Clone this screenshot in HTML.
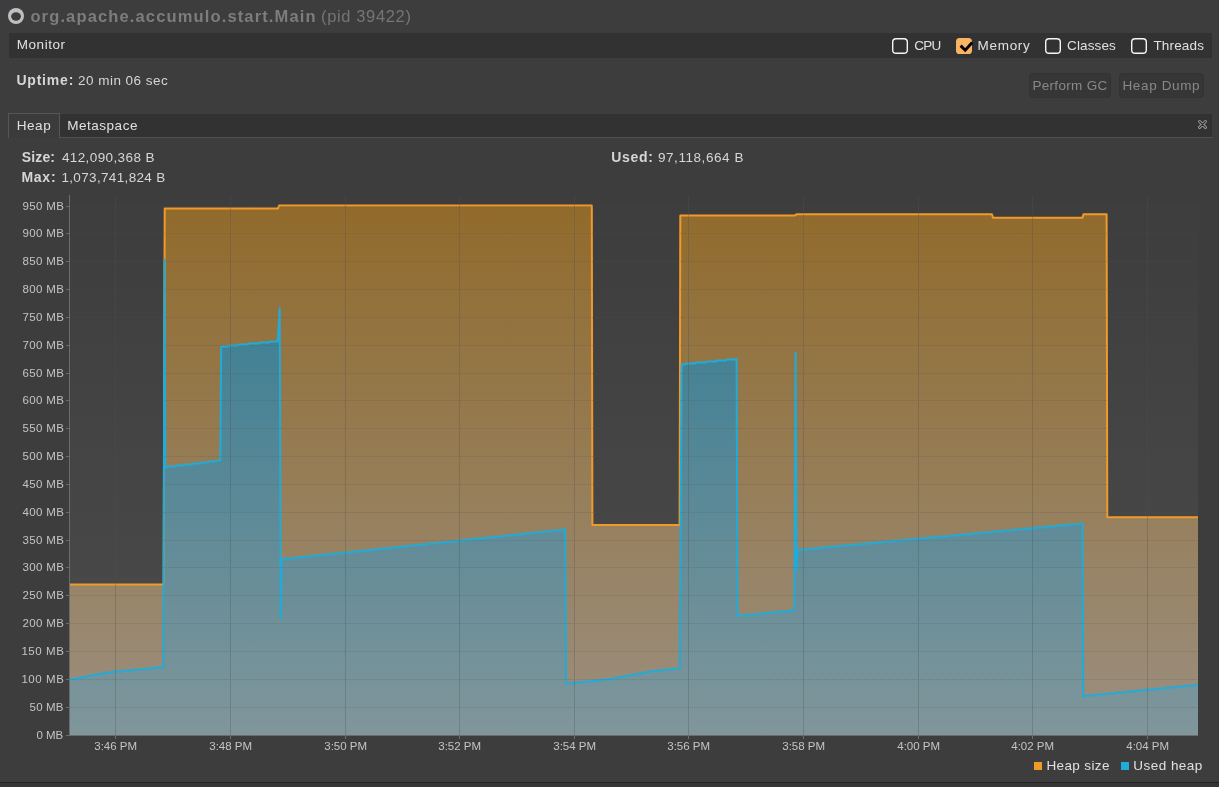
<!DOCTYPE html>
<html><head><meta charset="utf-8"><title>VisualVM - Monitor</title>
<style>
html,body{margin:0;padding:0}
body{width:1219px;height:787px;background:#3d3d3d;overflow:hidden;position:relative;font-family:"Liberation Sans",sans-serif}
.t{position:absolute;white-space:pre;font-family:"Liberation Sans",sans-serif}
.txt{position:absolute;left:0;top:0;width:1219px;height:787px;will-change:transform}
.bar{position:absolute;background:#323232}
.cb{position:absolute;width:14px;height:14px;border:1px solid #f0f0f0;border-radius:3.5px;top:38px;background:#323232}
.cb.on{background:#f9b463;border-color:#f9b463}
.cbx{position:absolute;top:38px}
.btn{position:absolute;top:73px;height:23px;border:1px solid #333;border-radius:4px;background:#363636}
.chart{position:absolute;left:0;top:0}
.sq{position:absolute;width:8px;height:8px;top:762px}
</style></head><body>
<!-- title icon -->
<svg style="position:absolute;left:8px;top:8px" width="16" height="16" viewBox="0 0 16 16"><circle cx="8" cy="8" r="8" fill="#bfbfc6"/><ellipse cx="8.05" cy="8.5" rx="4.9" ry="4.15" fill="#3b3b3b"/></svg>
<!-- monitor bar -->
<div class="bar" style="left:9px;top:33px;width:1203px;height:25px"></div>
<svg class="cbx" style="left:892px" width="16" height="16" viewBox="0 0 16 16"><rect x="0.7" y="0.7" width="14.6" height="14.6" rx="3.4" fill="#323232" stroke="#f6f6f6" stroke-width="1.4"/></svg>
<svg class="cbx" style="left:956px" width="16" height="16" viewBox="0 0 16 16"><rect x="0" y="0" width="16" height="16" rx="3.6" fill="#f9b463"/></svg>
<svg style="position:absolute;left:956px;top:38px" width="18" height="16" viewBox="0 0 18 16"><polyline points="4.6,7.6 9.2,12.2 16.2,4.6" fill="none" stroke="#000" stroke-width="3" stroke-linecap="butt" stroke-linejoin="miter"/></svg>
<svg class="cbx" style="left:1045px" width="16" height="16" viewBox="0 0 16 16"><rect x="0.7" y="0.7" width="14.6" height="14.6" rx="3.4" fill="#323232" stroke="#f6f6f6" stroke-width="1.4"/></svg>
<svg class="cbx" style="left:1131px" width="16" height="16" viewBox="0 0 16 16"><rect x="0.7" y="0.7" width="14.6" height="14.6" rx="3.4" fill="#323232" stroke="#f6f6f6" stroke-width="1.4"/></svg>
<!-- buttons -->
<div class="btn" style="left:1029px;width:80px"></div>
<div class="btn" style="left:1119px;width:83px"></div>
<!-- tab bar -->
<div class="bar" style="left:9px;top:114px;width:1203px;height:23px"></div>
<div style="position:absolute;left:9px;top:137px;width:1204px;height:1px;background:#505050"></div>
<div style="position:absolute;left:8px;top:113px;width:50px;height:24px;background:#3b3b3b;border:1px solid #565656;border-bottom:none"></div>
<svg style="position:absolute;left:1196px;top:118px" width="13" height="13" viewBox="0 0 13 13"><g fill="none" stroke-linecap="round"><path d="M3.55 3.5 L9.45 9.4 M9.45 3.5 L3.55 9.4" stroke="#9c9c9c" stroke-width="3"/><path d="M3.55 3.5 L9.45 9.4 M9.45 3.5 L3.55 9.4" stroke="#2e2e2e" stroke-width="1.1"/></g></svg>
<svg class="chart" width="1219" height="787" viewBox="0 0 1219 787">
<defs>
<linearGradient id="gbg" gradientUnits="userSpaceOnUse" x1="0" y1="195" x2="0" y2="735"><stop offset="0" stop-color="#3d3d3d"/><stop offset="1" stop-color="#4c4c4c"/></linearGradient>
<linearGradient id="gor" gradientUnits="userSpaceOnUse" x1="0" y1="195" x2="0" y2="735"><stop offset="0" stop-color="rgb(145,106,42)"/><stop offset="1" stop-color="rgb(155,143,128)"/></linearGradient>
<linearGradient id="gbl" gradientUnits="userSpaceOnUse" x1="0" y1="195" x2="0" y2="735"><stop offset="0" stop-color="rgb(43,121,146)"/><stop offset="1" stop-color="rgb(128,150,155)"/></linearGradient>
<clipPath id="cp"><rect x="70" y="195" width="1128" height="540"/></clipPath>
</defs>
<rect x="70" y="195" width="1128" height="540" fill="url(#gbg)"/>
<g clip-path="url(#cp)">
<polygon points="70.0,584.5 163.6,584.5 164.7,208.5 278.0,208.5 279.0,205.6 591.8,205.6 592.4,524.9 679.6,524.9 680.3,215.6 794.5,215.6 796.5,214.3 992.0,214.3 993.0,217.7 1082.5,217.7 1083.5,214.3 1106.6,214.3 1107.3,517.3 1198.0,517.3 1198.0,735.0 70.0,735.0" fill="url(#gor)"/>
<polygon points="70.0,679.8 71.0,679.5 74.0,679.5 75.0,678.5 79.0,678.5 80.0,677.5 84.0,677.5 85.0,676.5 89.0,676.5 90.0,675.5 94.0,675.5 95.0,674.5 99.0,674.5 100.0,673.5 104.0,673.5 105.0,672.5 105.0,672.5 107.0,672.5 108.0,672.5 112.0,672.5 113.0,671.5 122.0,671.5 123.0,670.5 133.0,670.5 134.0,669.5 144.0,669.5 145.0,668.5 154.0,668.5 155.0,667.5 162.0,667.5 163.4,667.2 164.5,259.6 165.4,467.3 167.0,467.5 167.0,467.5 168.0,466.5 175.0,466.5 176.0,465.5 183.0,465.5 184.0,464.5 192.0,464.5 193.0,463.5 200.0,463.5 201.0,462.5 208.0,462.5 209.0,461.5 216.0,461.5 217.0,460.5 219.0,460.5 220.3,460.5 221.2,346.7 223.0,346.5 228.0,346.5 229.0,345.5 238.0,345.5 239.0,344.5 248.0,344.5 249.0,343.5 259.0,343.5 260.0,342.5 269.0,342.5 270.0,341.5 276.0,341.5 277.8,341.2 279.7,308.0 280.7,618.0 281.6,559.3 283.0,559.5 284.0,559.5 285.0,558.5 294.0,558.5 295.0,557.5 303.0,557.5 304.0,556.5 313.0,556.5 314.0,555.5 322.0,555.5 323.0,554.5 332.0,554.5 333.0,553.5 341.0,553.5 342.0,552.5 351.0,552.5 352.0,551.5 360.0,551.5 361.0,550.5 370.0,550.5 371.0,549.5 379.0,549.5 380.0,548.5 389.0,548.5 390.0,547.5 399.0,547.5 400.0,546.5 408.0,546.5 409.0,545.5 418.0,545.5 419.0,544.5 427.0,544.5 428.0,543.5 437.0,543.5 438.0,542.5 446.0,542.5 447.0,541.5 456.0,541.5 457.0,540.5 465.0,540.5 466.0,539.5 475.0,539.5 476.0,538.5 484.0,538.5 485.0,537.5 494.0,537.5 495.0,536.5 504.0,536.5 505.0,535.5 513.0,535.5 514.0,534.5 523.0,534.5 524.0,533.5 532.0,533.5 533.0,532.5 542.0,532.5 543.0,531.5 551.0,531.5 552.0,530.5 561.0,530.5 562.0,529.5 564.0,529.5 565.2,529.6 566.1,683.6 568.0,683.5 572.0,683.5 573.0,682.5 582.0,682.5 583.0,681.5 592.0,681.5 593.0,680.5 602.0,680.5 603.0,679.5 608.0,679.5 610.0,679.3 611.0,679.5 611.0,679.5 612.0,678.5 616.0,678.5 617.0,677.5 621.0,677.5 622.0,676.5 626.0,676.5 627.0,675.5 632.0,675.5 633.0,674.5 637.0,674.5 638.0,673.5 642.0,673.5 643.0,672.5 647.0,672.5 648.0,671.5 648.0,671.5 650.0,671.5 651.0,671.5 654.0,671.5 655.0,670.5 663.0,670.5 664.0,669.5 673.0,669.5 674.0,668.5 678.0,668.5 679.8,668.3 681.6,364.4 683.0,364.5 685.0,364.5 686.0,363.5 695.0,363.5 696.0,362.5 706.0,362.5 707.0,361.5 716.0,361.5 717.0,360.5 726.0,360.5 727.0,359.5 735.0,359.5 736.6,359.0 737.5,616.0 739.0,615.5 747.0,615.5 748.0,614.5 757.0,614.5 758.0,613.5 767.0,613.5 768.0,612.5 778.0,612.5 779.0,611.5 788.0,611.5 789.0,610.5 793.0,610.5 794.3,610.4 795.6,352.7 796.6,570.5 797.6,550.0 799.0,549.5 808.0,549.5 809.0,548.5 819.0,548.5 820.0,547.5 829.0,547.5 830.0,546.5 840.0,546.5 841.0,545.5 851.0,545.5 852.0,544.5 862.0,544.5 863.0,543.5 873.0,543.5 874.0,542.5 883.0,542.5 884.0,541.5 894.0,541.5 895.0,540.5 905.0,540.5 906.0,539.5 916.0,539.5 917.0,538.5 927.0,538.5 928.0,537.5 937.0,537.5 938.0,536.5 948.0,536.5 949.0,535.5 959.0,535.5 960.0,534.5 970.0,534.5 971.0,533.5 980.0,533.5 981.0,532.5 991.0,532.5 992.0,531.5 1002.0,531.5 1003.0,530.5 1013.0,530.5 1014.0,529.5 1024.0,529.5 1025.0,528.5 1034.0,528.5 1035.0,527.5 1045.0,527.5 1046.0,526.5 1056.0,526.5 1057.0,525.5 1067.0,525.5 1068.0,524.5 1078.0,524.5 1079.0,523.5 1081.0,523.5 1082.4,523.6 1083.3,696.2 1085.0,696.5 1085.0,696.5 1086.0,695.5 1095.0,695.5 1096.0,694.5 1105.0,694.5 1106.0,693.5 1115.0,693.5 1116.0,692.5 1125.0,692.5 1126.0,691.5 1135.0,691.5 1136.0,690.5 1145.0,690.5 1146.0,689.5 1155.0,689.5 1156.0,688.5 1165.0,688.5 1166.0,687.5 1175.0,687.5 1176.0,686.5 1185.0,686.5 1186.0,685.5 1195.0,685.5 1196.0,684.5 1196.0,684.5 1198.0,684.8 1198.0,735.0 70.0,735.0" fill="url(#gbl)"/>
<polyline points="70.0,584.5 163.6,584.5 164.7,208.5 278.0,208.5 279.0,205.6 591.8,205.6 592.4,524.9 679.6,524.9 680.3,215.6 794.5,215.6 796.5,214.3 992.0,214.3 993.0,217.7 1082.5,217.7 1083.5,214.3 1106.6,214.3 1107.3,517.3 1198.0,517.3" fill="none" stroke="#f19a2a" stroke-width="2" stroke-linejoin="round"/>
<polyline points="70.0,679.8 71.0,679.5 74.0,679.5 75.0,678.5 79.0,678.5 80.0,677.5 84.0,677.5 85.0,676.5 89.0,676.5 90.0,675.5 94.0,675.5 95.0,674.5 99.0,674.5 100.0,673.5 104.0,673.5 105.0,672.5 105.0,672.5 107.0,672.5 108.0,672.5 112.0,672.5 113.0,671.5 122.0,671.5 123.0,670.5 133.0,670.5 134.0,669.5 144.0,669.5 145.0,668.5 154.0,668.5 155.0,667.5 162.0,667.5 163.4,667.2 164.5,259.6 165.4,467.3 167.0,467.5 167.0,467.5 168.0,466.5 175.0,466.5 176.0,465.5 183.0,465.5 184.0,464.5 192.0,464.5 193.0,463.5 200.0,463.5 201.0,462.5 208.0,462.5 209.0,461.5 216.0,461.5 217.0,460.5 219.0,460.5 220.3,460.5 221.2,346.7 223.0,346.5 228.0,346.5 229.0,345.5 238.0,345.5 239.0,344.5 248.0,344.5 249.0,343.5 259.0,343.5 260.0,342.5 269.0,342.5 270.0,341.5 276.0,341.5 277.8,341.2 279.7,308.0 280.7,618.0 281.6,559.3 283.0,559.5 284.0,559.5 285.0,558.5 294.0,558.5 295.0,557.5 303.0,557.5 304.0,556.5 313.0,556.5 314.0,555.5 322.0,555.5 323.0,554.5 332.0,554.5 333.0,553.5 341.0,553.5 342.0,552.5 351.0,552.5 352.0,551.5 360.0,551.5 361.0,550.5 370.0,550.5 371.0,549.5 379.0,549.5 380.0,548.5 389.0,548.5 390.0,547.5 399.0,547.5 400.0,546.5 408.0,546.5 409.0,545.5 418.0,545.5 419.0,544.5 427.0,544.5 428.0,543.5 437.0,543.5 438.0,542.5 446.0,542.5 447.0,541.5 456.0,541.5 457.0,540.5 465.0,540.5 466.0,539.5 475.0,539.5 476.0,538.5 484.0,538.5 485.0,537.5 494.0,537.5 495.0,536.5 504.0,536.5 505.0,535.5 513.0,535.5 514.0,534.5 523.0,534.5 524.0,533.5 532.0,533.5 533.0,532.5 542.0,532.5 543.0,531.5 551.0,531.5 552.0,530.5 561.0,530.5 562.0,529.5 564.0,529.5 565.2,529.6 566.1,683.6 568.0,683.5 572.0,683.5 573.0,682.5 582.0,682.5 583.0,681.5 592.0,681.5 593.0,680.5 602.0,680.5 603.0,679.5 608.0,679.5 610.0,679.3 611.0,679.5 611.0,679.5 612.0,678.5 616.0,678.5 617.0,677.5 621.0,677.5 622.0,676.5 626.0,676.5 627.0,675.5 632.0,675.5 633.0,674.5 637.0,674.5 638.0,673.5 642.0,673.5 643.0,672.5 647.0,672.5 648.0,671.5 648.0,671.5 650.0,671.5 651.0,671.5 654.0,671.5 655.0,670.5 663.0,670.5 664.0,669.5 673.0,669.5 674.0,668.5 678.0,668.5 679.8,668.3 681.6,364.4 683.0,364.5 685.0,364.5 686.0,363.5 695.0,363.5 696.0,362.5 706.0,362.5 707.0,361.5 716.0,361.5 717.0,360.5 726.0,360.5 727.0,359.5 735.0,359.5 736.6,359.0 737.5,616.0 739.0,615.5 747.0,615.5 748.0,614.5 757.0,614.5 758.0,613.5 767.0,613.5 768.0,612.5 778.0,612.5 779.0,611.5 788.0,611.5 789.0,610.5 793.0,610.5 794.3,610.4 795.6,352.7 796.6,570.5 797.6,550.0 799.0,549.5 808.0,549.5 809.0,548.5 819.0,548.5 820.0,547.5 829.0,547.5 830.0,546.5 840.0,546.5 841.0,545.5 851.0,545.5 852.0,544.5 862.0,544.5 863.0,543.5 873.0,543.5 874.0,542.5 883.0,542.5 884.0,541.5 894.0,541.5 895.0,540.5 905.0,540.5 906.0,539.5 916.0,539.5 917.0,538.5 927.0,538.5 928.0,537.5 937.0,537.5 938.0,536.5 948.0,536.5 949.0,535.5 959.0,535.5 960.0,534.5 970.0,534.5 971.0,533.5 980.0,533.5 981.0,532.5 991.0,532.5 992.0,531.5 1002.0,531.5 1003.0,530.5 1013.0,530.5 1014.0,529.5 1024.0,529.5 1025.0,528.5 1034.0,528.5 1035.0,527.5 1045.0,527.5 1046.0,526.5 1056.0,526.5 1057.0,525.5 1067.0,525.5 1068.0,524.5 1078.0,524.5 1079.0,523.5 1081.0,523.5 1082.4,523.6 1083.3,696.2 1085.0,696.5 1085.0,696.5 1086.0,695.5 1095.0,695.5 1096.0,694.5 1105.0,694.5 1106.0,693.5 1115.0,693.5 1116.0,692.5 1125.0,692.5 1126.0,691.5 1135.0,691.5 1136.0,690.5 1145.0,690.5 1146.0,689.5 1155.0,689.5 1156.0,688.5 1165.0,688.5 1166.0,687.5 1175.0,687.5 1176.0,686.5 1185.0,686.5 1186.0,685.5 1195.0,685.5 1196.0,684.5 1196.0,684.5 1198.0,684.8" fill="none" stroke="#20abd9" stroke-width="2" stroke-linejoin="round"/>
<g stroke="rgba(80,80,80,0.31)" stroke-width="1" shape-rendering="crispEdges"><line y1="195" y2="735" x1="115.5" x2="115.5"/><line y1="195" y2="735" x1="230.5" x2="230.5"/><line y1="195" y2="735" x1="345.5" x2="345.5"/><line y1="195" y2="735" x1="459.5" x2="459.5"/><line y1="195" y2="735" x1="574.5" x2="574.5"/><line y1="195" y2="735" x1="688.5" x2="688.5"/><line y1="195" y2="735" x1="803.5" x2="803.5"/><line y1="195" y2="735" x1="918.5" x2="918.5"/><line y1="195" y2="735" x1="1032.5" x2="1032.5"/><line y1="195" y2="735" x1="1147.5" x2="1147.5"/></g>
<g stroke="rgba(80,80,80,0.31)" stroke-width="1" stroke-dasharray="1 1" shape-rendering="crispEdges"><line x1="70" x2="1198" y1="707.5" y2="707.5"/><line x1="70" x2="1198" y1="679.5" y2="679.5"/><line x1="70" x2="1198" y1="651.5" y2="651.5"/><line x1="70" x2="1198" y1="623.5" y2="623.5"/><line x1="70" x2="1198" y1="595.5" y2="595.5"/><line x1="70" x2="1198" y1="567.5" y2="567.5"/><line x1="70" x2="1198" y1="540.5" y2="540.5"/><line x1="70" x2="1198" y1="512.5" y2="512.5"/><line x1="70" x2="1198" y1="484.5" y2="484.5"/><line x1="70" x2="1198" y1="456.5" y2="456.5"/><line x1="70" x2="1198" y1="428.5" y2="428.5"/><line x1="70" x2="1198" y1="400.5" y2="400.5"/><line x1="70" x2="1198" y1="373.5" y2="373.5"/><line x1="70" x2="1198" y1="345.5" y2="345.5"/><line x1="70" x2="1198" y1="317.5" y2="317.5"/><line x1="70" x2="1198" y1="289.5" y2="289.5"/><line x1="70" x2="1198" y1="261.5" y2="261.5"/><line x1="70" x2="1198" y1="233.5" y2="233.5"/><line x1="70" x2="1198" y1="206.5" y2="206.5"/></g>
</g>
<g stroke="#6c6c6c" stroke-width="1" shape-rendering="crispEdges">
<line x1="69.5" x2="69.5" y1="195" y2="736"/><line x1="69" x2="1198" y1="735.5" y2="735.5"/><line x1="66" x2="69" y1="735.5" y2="735.5"/><line x1="66" x2="69" y1="707.5" y2="707.5"/><line x1="66" x2="69" y1="679.5" y2="679.5"/><line x1="66" x2="69" y1="651.5" y2="651.5"/><line x1="66" x2="69" y1="623.5" y2="623.5"/><line x1="66" x2="69" y1="595.5" y2="595.5"/><line x1="66" x2="69" y1="567.5" y2="567.5"/><line x1="66" x2="69" y1="540.5" y2="540.5"/><line x1="66" x2="69" y1="512.5" y2="512.5"/><line x1="66" x2="69" y1="484.5" y2="484.5"/><line x1="66" x2="69" y1="456.5" y2="456.5"/><line x1="66" x2="69" y1="428.5" y2="428.5"/><line x1="66" x2="69" y1="400.5" y2="400.5"/><line x1="66" x2="69" y1="373.5" y2="373.5"/><line x1="66" x2="69" y1="345.5" y2="345.5"/><line x1="66" x2="69" y1="317.5" y2="317.5"/><line x1="66" x2="69" y1="289.5" y2="289.5"/><line x1="66" x2="69" y1="261.5" y2="261.5"/><line x1="66" x2="69" y1="233.5" y2="233.5"/><line x1="66" x2="69" y1="206.5" y2="206.5"/><line y1="735" y2="739" x1="115.5" x2="115.5"/><line y1="735" y2="739" x1="230.5" x2="230.5"/><line y1="735" y2="739" x1="345.5" x2="345.5"/><line y1="735" y2="739" x1="459.5" x2="459.5"/><line y1="735" y2="739" x1="574.5" x2="574.5"/><line y1="735" y2="739" x1="688.5" x2="688.5"/><line y1="735" y2="739" x1="803.5" x2="803.5"/><line y1="735" y2="739" x1="918.5" x2="918.5"/><line y1="735" y2="739" x1="1032.5" x2="1032.5"/><line y1="735" y2="739" x1="1147.5" x2="1147.5"/></g>
</svg>
<div class="sq" style="left:1034px;background:#f19a2a"></div>
<div class="sq" style="left:1121px;background:#20abd9"></div>
<div class="txt">
<span class="t" id="title" style="left:30.40px;top:8.00px;font-size:16.5px;line-height:16.5px;font-weight:700;color:#7d7d7d;letter-spacing:1.140px">org.apache.accumulo.start.Main</span>
<span class="t" id="pid" style="left:321.00px;top:8.00px;font-size:16.5px;line-height:16.5px;font-weight:400;color:#757575;letter-spacing:0.640px">(pid 39422)</span>
<span class="t" id="monitor" style="left:16.75px;top:38.00px;font-size:13.5px;line-height:13.5px;font-weight:400;color:#e0e0e0;letter-spacing:0.542px">Monitor</span>
<span class="t" id="uptime" style="left:16.40px;top:73.00px;font-size:14px;line-height:14px;font-weight:700;color:#d6d6d6;letter-spacing:0.800px">Uptime:</span>
<span class="t" id="uptimev" style="left:78.00px;top:74.00px;font-size:13.5px;line-height:13.5px;font-weight:400;color:#d6d6d6;letter-spacing:0.477px">20 min 06 sec</span>
<span class="t" id="cpu" style="left:914.30px;top:39.00px;font-size:13.5px;line-height:13.5px;font-weight:400;color:#e0e0e0;letter-spacing:-0.750px">CPU</span>
<span class="t" id="memory" style="left:977.60px;top:39.00px;font-size:13.5px;line-height:13.5px;font-weight:400;color:#e0e0e0;letter-spacing:0.680px">Memory</span>
<span class="t" id="classes" style="left:1067.00px;top:39.00px;font-size:13.5px;line-height:13.5px;font-weight:400;color:#e0e0e0;letter-spacing:0.137px">Classes</span>
<span class="t" id="threads" style="left:1153.40px;top:39.00px;font-size:13.5px;line-height:13.5px;font-weight:400;color:#e0e0e0;letter-spacing:0.167px">Threads</span>
<span class="t" id="gc" style="left:1032.40px;top:79.25px;font-size:13.5px;line-height:13.5px;font-weight:400;color:#888888;letter-spacing:0.322px">Perform GC</span>
<span class="t" id="dump" style="left:1122.50px;top:79.25px;font-size:13.5px;line-height:13.5px;font-weight:400;color:#888888;letter-spacing:0.625px">Heap Dump</span>
<span class="t" id="heap" style="left:16.70px;top:119.10px;font-size:13.5px;line-height:13.5px;font-weight:400;color:#e0e0e0;letter-spacing:0.567px">Heap</span>
<span class="t" id="meta" style="left:67.20px;top:119.10px;font-size:13.5px;line-height:13.5px;font-weight:400;color:#e0e0e0;letter-spacing:0.525px">Metaspace</span>
<span class="t" id="size" style="left:21.80px;top:150.00px;font-size:14px;line-height:14px;font-weight:700;color:#d6d6d6;letter-spacing:0.137px">Size:</span>
<span class="t" id="sizev" style="left:61.90px;top:151.00px;font-size:13.5px;line-height:13.5px;font-weight:400;color:#d6d6d6;letter-spacing:0.392px">412,090,368 B</span>
<span class="t" id="max" style="left:21.40px;top:170.00px;font-size:14px;line-height:14px;font-weight:700;color:#d6d6d6;letter-spacing:0.750px">Max:</span>
<span class="t" id="maxv" style="left:61.40px;top:170.80px;font-size:13.5px;line-height:13.5px;font-weight:400;color:#d6d6d6;letter-spacing:0.343px">1,073,741,824 B</span>
<span class="t" id="used" style="left:611.20px;top:149.80px;font-size:14px;line-height:14px;font-weight:700;color:#d6d6d6;letter-spacing:0.705px">Used:</span>
<span class="t" id="usedv" style="left:658.00px;top:150.80px;font-size:13.5px;line-height:13.5px;font-weight:400;color:#d6d6d6;letter-spacing:0.553px">97,118,664 B</span>
<span class="t" id="lg1" style="left:1046.40px;top:759.40px;font-size:13.5px;line-height:13.5px;font-weight:400;color:#e0e0e0;letter-spacing:0.387px">Heap size</span>
<span class="t" id="lg2" style="left:1133.30px;top:759.40px;font-size:13.5px;line-height:13.5px;font-weight:400;color:#e0e0e0;letter-spacing:0.463px">Used heap</span>
<span class="t" id="y0" style="left:36.50px;top:730.10px;font-size:11.5px;line-height:11.5px;font-weight:400;color:#c4c4c4;letter-spacing:-0.067px">0 MB</span>
<span class="t" id="y50" style="left:29.60px;top:702.10px;font-size:11.5px;line-height:11.5px;font-weight:400;color:#c4c4c4;letter-spacing:0.175px">50 MB</span>
<span class="t" id="y100" style="left:21.40px;top:674.10px;font-size:11.5px;line-height:11.5px;font-weight:400;color:#c4c4c4;letter-spacing:0.580px">100 MB</span>
<span class="t" id="y150" style="left:21.40px;top:646.10px;font-size:11.5px;line-height:11.5px;font-weight:400;color:#c4c4c4;letter-spacing:0.580px">150 MB</span>
<span class="t" id="y200" style="left:22.40px;top:618.10px;font-size:11.5px;line-height:11.5px;font-weight:400;color:#c4c4c4;letter-spacing:0.380px">200 MB</span>
<span class="t" id="y250" style="left:22.40px;top:590.10px;font-size:11.5px;line-height:11.5px;font-weight:400;color:#c4c4c4;letter-spacing:0.380px">250 MB</span>
<span class="t" id="y300" style="left:22.40px;top:562.10px;font-size:11.5px;line-height:11.5px;font-weight:400;color:#c4c4c4;letter-spacing:0.380px">300 MB</span>
<span class="t" id="y350" style="left:22.40px;top:535.10px;font-size:11.5px;line-height:11.5px;font-weight:400;color:#c4c4c4;letter-spacing:0.380px">350 MB</span>
<span class="t" id="y400" style="left:22.40px;top:507.10px;font-size:11.5px;line-height:11.5px;font-weight:400;color:#c4c4c4;letter-spacing:0.380px">400 MB</span>
<span class="t" id="y450" style="left:22.40px;top:479.10px;font-size:11.5px;line-height:11.5px;font-weight:400;color:#c4c4c4;letter-spacing:0.380px">450 MB</span>
<span class="t" id="y500" style="left:22.40px;top:451.10px;font-size:11.5px;line-height:11.5px;font-weight:400;color:#c4c4c4;letter-spacing:0.380px">500 MB</span>
<span class="t" id="y550" style="left:22.40px;top:423.10px;font-size:11.5px;line-height:11.5px;font-weight:400;color:#c4c4c4;letter-spacing:0.380px">550 MB</span>
<span class="t" id="y600" style="left:22.40px;top:395.10px;font-size:11.5px;line-height:11.5px;font-weight:400;color:#c4c4c4;letter-spacing:0.380px">600 MB</span>
<span class="t" id="y650" style="left:22.40px;top:368.10px;font-size:11.5px;line-height:11.5px;font-weight:400;color:#c4c4c4;letter-spacing:0.380px">650 MB</span>
<span class="t" id="y700" style="left:22.40px;top:340.10px;font-size:11.5px;line-height:11.5px;font-weight:400;color:#c4c4c4;letter-spacing:0.380px">700 MB</span>
<span class="t" id="y750" style="left:22.40px;top:312.10px;font-size:11.5px;line-height:11.5px;font-weight:400;color:#c4c4c4;letter-spacing:0.380px">750 MB</span>
<span class="t" id="y800" style="left:22.40px;top:284.10px;font-size:11.5px;line-height:11.5px;font-weight:400;color:#c4c4c4;letter-spacing:0.380px">800 MB</span>
<span class="t" id="y850" style="left:22.40px;top:256.10px;font-size:11.5px;line-height:11.5px;font-weight:400;color:#c4c4c4;letter-spacing:0.380px">850 MB</span>
<span class="t" id="y900" style="left:22.40px;top:228.10px;font-size:11.5px;line-height:11.5px;font-weight:400;color:#c4c4c4;letter-spacing:0.380px">900 MB</span>
<span class="t" id="y950" style="left:22.40px;top:201.10px;font-size:11.5px;line-height:11.5px;font-weight:400;color:#c4c4c4;letter-spacing:0.380px">950 MB</span>
<span class="t" id="x0" style="left:94.30px;top:740.90px;font-size:11.5px;line-height:11.5px;font-weight:400;color:#c4c4c4;letter-spacing:-0.017px">3:46 PM</span>
<span class="t" id="x1" style="left:209.30px;top:740.90px;font-size:11.5px;line-height:11.5px;font-weight:400;color:#c4c4c4;letter-spacing:-0.017px">3:48 PM</span>
<span class="t" id="x2" style="left:324.30px;top:740.90px;font-size:11.5px;line-height:11.5px;font-weight:400;color:#c4c4c4;letter-spacing:-0.017px">3:50 PM</span>
<span class="t" id="x3" style="left:438.30px;top:740.90px;font-size:11.5px;line-height:11.5px;font-weight:400;color:#c4c4c4;letter-spacing:-0.017px">3:52 PM</span>
<span class="t" id="x4" style="left:553.30px;top:740.90px;font-size:11.5px;line-height:11.5px;font-weight:400;color:#c4c4c4;letter-spacing:-0.017px">3:54 PM</span>
<span class="t" id="x5" style="left:667.30px;top:740.90px;font-size:11.5px;line-height:11.5px;font-weight:400;color:#c4c4c4;letter-spacing:-0.017px">3:56 PM</span>
<span class="t" id="x6" style="left:782.30px;top:740.90px;font-size:11.5px;line-height:11.5px;font-weight:400;color:#c4c4c4;letter-spacing:-0.017px">3:58 PM</span>
<span class="t" id="x7" style="left:897.30px;top:740.90px;font-size:11.5px;line-height:11.5px;font-weight:400;color:#c4c4c4;letter-spacing:-0.017px">4:00 PM</span>
<span class="t" id="x8" style="left:1011.30px;top:740.90px;font-size:11.5px;line-height:11.5px;font-weight:400;color:#c4c4c4;letter-spacing:-0.017px">4:02 PM</span>
<span class="t" id="x9" style="left:1126.30px;top:740.90px;font-size:11.5px;line-height:11.5px;font-weight:400;color:#c4c4c4;letter-spacing:-0.017px">4:04 PM</span>
</div>
<!-- bottom strip -->
<div style="position:absolute;left:0;top:782px;width:1219px;height:1px;background:#232323"></div>
<div style="position:absolute;left:0;top:783px;width:1219px;height:4px;background:#353535"></div>
</body></html>
